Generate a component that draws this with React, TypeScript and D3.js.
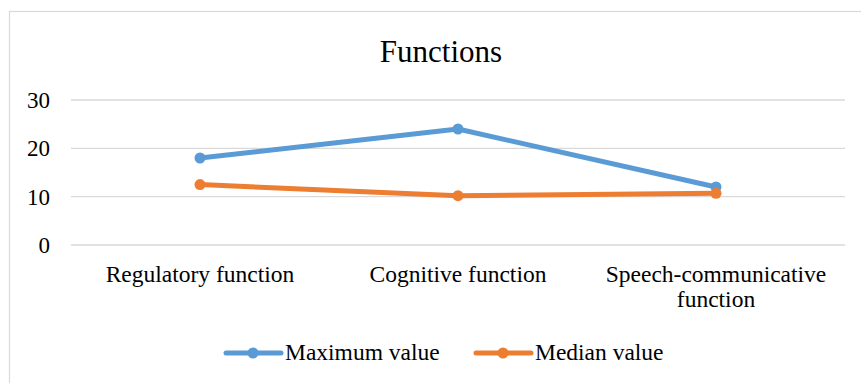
import React from "react";
import * as d3 from "d3";

const categories: string[][] = [["Regulatory function"], ["Cognitive function"], ["Speech-communicative", "function"]];
const maxValues = [18, 24, 12];
const medianValues = [12.5, 10.2, 10.7];
const yTicks = [0, 10, 20, 30];
const seriesNames = ["Maximum value", "Median value"];
const colors = ["#5B9BD5", "#ED7D31"];

const W = 861, H = 383;
const FONT = "Liberation Serif";

export default function App() {
  const x = d3.scaleBand<number>().domain(d3.range(categories.length)).range([71, 845]);
  const y = d3.scaleLinear().domain([0, 30]).range([245, 100]);
  const line = d3.line<number>().x((_, i) => x(i)! + x.bandwidth() / 2).y(d => y(d));
  const series = [maxValues, medianValues];
  const legendX = [226, 476];
  const ts = { fontFamily: FONT };
  return (
    <svg width={W} height={H} style={{ position: "absolute", left: 0, top: 0 }}>
      <rect x={0} y={0} width={W} height={H} fill="#fff" />
      <rect x={9.5} y={11.5} width={880} height={400} fill="none" stroke="#D9D9D9" strokeWidth={1.2} />
      <text x={441} y={62} textAnchor="middle" fontSize={31} fill="#000" style={ts}>Functions</text>
      {yTicks.map(t => (
        <g key={t}>
          <line x1={71} x2={845} y1={y(t)} y2={y(t)} stroke="#D9D9D9" strokeWidth={1.3} />
          <text x={50} y={y(t)} dy="0.35em" textAnchor="end" fontSize={23} fill="#000" style={ts}>{t}</text>
        </g>
      ))}
      {categories.map((c, i) => (
        <text key={i} textAnchor="middle" fontSize={23.5} fill="#000" style={ts}>
          {c.map((ln, j) => (
            <tspan key={j} x={x(i)! + x.bandwidth() / 2} y={282 + j * 25}>{ln}</tspan>
          ))}
        </text>
      ))}
      {series.map((s, k) => (
        <g key={k}>
          <path d={line(s)!} fill="none" stroke={colors[k]} strokeWidth={5} strokeLinejoin="round" strokeLinecap="round" />
          {s.map((v, i) => (
            <circle key={i} cx={x(i)! + x.bandwidth() / 2} cy={y(v)} r={5.5} fill={colors[k]} />
          ))}
        </g>
      ))}
      {seriesNames.map((n, k) => (
        <g key={n}>
          <line x1={legendX[k]} x2={legendX[k] + 55} y1={353} y2={353} stroke={colors[k]} strokeWidth={5} strokeLinecap="round" />
          <circle cx={legendX[k] + 27} cy={353} r={5.5} fill={colors[k]} />
          <text x={legendX[k] + 59} y={360} fontSize={23.5} fill="#000" style={ts}>{n}</text>
        </g>
      ))}
    </svg>
  );
}
